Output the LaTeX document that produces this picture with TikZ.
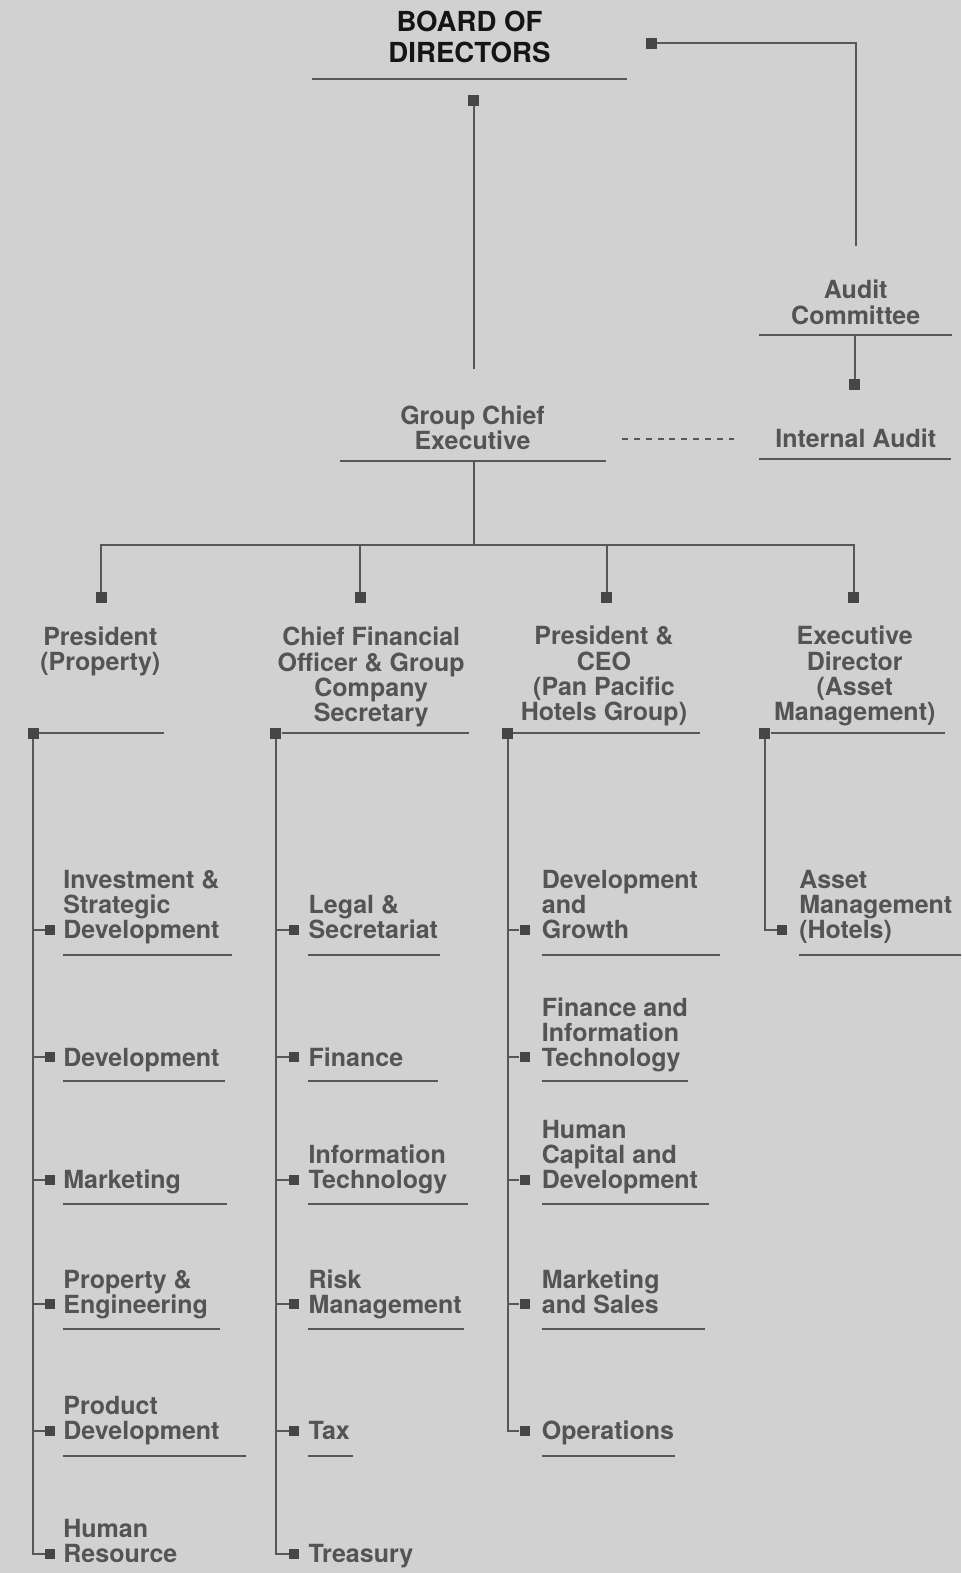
\documentclass[tikz,border=0pt]{standalone}
\usepackage{fontspec}
\setmainfont{TeX Gyre Heros}
\definecolor{bg}{HTML}{D0D1D0}
\definecolor{txt}{HTML}{545454}
\definecolor{brd}{HTML}{151515}
\definecolor{ln}{HTML}{575757}
\definecolor{sqc}{HTML}{464646}
\tikzset{
  title/.style={font=\fontsize{25}{25.1}\selectfont\bfseries, text=txt, inner sep=0pt, align=center, anchor=base},
  itemtext/.style={font=\fontsize{25}{25.1}\selectfont\bfseries, text=txt, inner sep=0pt, align=left, anchor=base west},
  bigsq/.style={rectangle, fill=sqc, minimum size=11pt, inner sep=0pt},
  smallsq/.style={rectangle, fill=sqc, minimum size=10pt, inner sep=0pt},
  conn/.style={draw=ln, line width=2pt},
  uline/.style={draw=ln, line width=2pt},
  dashconn/.style={draw=ln, line width=2pt, dash pattern=on 6pt off 5.85pt},
}
\begin{document}
\begin{tikzpicture}[x=1.0031pt,y=-1.0031pt]
\fill[bg] (0,0) rectangle (958,1568);
\useasboundingbox (0,0) rectangle (958,1568);

% ---- top level
\node[title, font=\fontsize{27.6}{31}\selectfont\bfseries, text=brd] (board) at (468,62) {BOARD OF\\DIRECTORS};
\draw[uline] (311,79) -- (625,79);
\node[bigsq] (b1) at (472,100) {};
\coordinate (gtop) at (472,368);
\draw[conn] (b1) -- (gtop);
\node[bigsq] (a1) at (649,43) {};
\coordinate (actop) at (853,245);
\draw[conn] (a1) -| (actop);

% ---- audit
\node[title] (audit) at (853,323) {Audit\\Committee};
\draw[uline] (757,334) -- (949,334);
\coordinate (acb) at (852,334);
\node[bigsq] (a2) at (852,383) {};
\draw[conn] (acb) -- (a2);
\node[title] (ia) at (853,446) {Internal Audit};
\draw[uline] (757,458) -- (948,458);

% ---- group chief executive
\node[title] (gce) at (471,448) {Group Chief\\Executive};
\draw[uline] (339,460) -- (604,460);
\coordinate (dl) at (620,438);
\coordinate (dr) at (732,438);
\draw[dashconn] (dl) -- (dr);
\coordinate (gbot) at (472,460);
\coordinate (bus) at (472,543);
\draw[conn] (gbot) -- (bus);
\node[bigsq] (s1) at (101,596) {};
\node[bigsq] (s2) at (359,596) {};
\node[bigsq] (s3) at (605,596) {};
\node[bigsq] (s4) at (851,596) {};
\draw[conn] (s1) |- (bus) -| (s4);
\draw[conn] (s2) -- (s2 |- bus);
\draw[conn] (s3) -- (s3 |- bus);

% ---- second level titles
\node[title] (pp) at (100,668) {President\\(Property)};
\node[title] (cfo) at (370,719) {Chief Financial\\Officer \& Group\\Company\\Secretary};
\node[title] (ceo) at (602,718) {President \&\\CEO\\(Pan Pacific\\Hotels Group)};
\node[title] (ed) at (852,718) {Executive\\Director\\(Asset\\Management)};

\node[bigsq] (k1) at (33,731) {};
\node[bigsq] (k2) at (275,731) {};
\node[bigsq] (k3) at (506,731) {};
\node[bigsq] (k4) at (762.5,731) {};
\draw[uline] (k1) -- (163,731);
\draw[uline] (k2) -- (468,731);
\draw[uline] (k3) -- (698,731);
\draw[uline] (k4) -- (942,731);

% ---- column 1
\node[smallsq] (p1) at (50,927) {};
\node[smallsq] (p2) at (50,1054) {};
\node[smallsq] (p3) at (50,1176) {};
\node[smallsq] (p4) at (50,1300) {};
\node[smallsq] (p5) at (50,1426) {};
\node[smallsq] (p6) at (50,1549) {};
\draw[conn] (k1) |- (p6);
\foreach \n in {p1,p2,p3,p4,p5} \draw[conn] (k1 |- \n) -- (\n);
\node[itemtext] (t11) at (63,936) {Investment \&\\Strategic\\Development};
\node[itemtext] (t12) at (63,1063) {Development};
\node[itemtext] (t13) at (63,1185) {Marketing};
\node[itemtext] (t14) at (63,1309) {Property \&\\Engineering};
\node[itemtext] (t15) at (63,1435) {Product\\Development};
\node[itemtext] (t16) at (63,1558) {Human\\Resource};
\draw[uline] (63,952) -- (231,952);
\draw[uline] (63,1078) -- (224,1078);
\draw[uline] (63,1200) -- (226,1200);
\draw[uline] (63,1325) -- (219,1325);
\draw[uline] (63,1451) -- (245,1451);

% ---- column 2
\node[smallsq] (q1) at (293.4,927) {};
\node[smallsq] (q2) at (293.4,1054) {};
\node[smallsq] (q3) at (293.4,1176) {};
\node[smallsq] (q4) at (293.4,1300) {};
\node[smallsq] (q5) at (293.4,1426) {};
\node[smallsq] (q6) at (293.4,1549) {};
\draw[conn] (k2) |- (q6);
\foreach \n in {q1,q2,q3,q4,q5} \draw[conn] (k2 |- \n) -- (\n);
\node[itemtext] (t21) at (307.5,936) {Legal \&\\Secretariat};
\node[itemtext] (t22) at (307.5,1063) {Finance};
\node[itemtext] (t23) at (307.5,1185) {Information\\Technology};
\node[itemtext] (t24) at (307.5,1309) {Risk\\Management};
\node[itemtext] (t25) at (307.5,1435) {Tax};
\node[itemtext] (t26) at (307.5,1558) {Treasury};
\draw[uline] (307.5,952) -- (439,952);
\draw[uline] (307.5,1078) -- (437,1078);
\draw[uline] (307.5,1200) -- (467,1200);
\draw[uline] (307.5,1325) -- (463,1325);
\draw[uline] (307.5,1451) -- (352,1451);

% ---- column 3
\node[smallsq] (r1) at (523,927) {};
\node[smallsq] (r2) at (523,1054) {};
\node[smallsq] (r3) at (523,1176) {};
\node[smallsq] (r4) at (523,1300) {};
\node[smallsq] (r5) at (523,1426) {};
\draw[conn] (k3) |- (r5);
\foreach \n in {r1,r2,r3,r4} \draw[conn] (k3 |- \n) -- (\n);
\node[itemtext] (t31) at (540,936) {Development\\and\\Growth};
\node[itemtext] (t32) at (540,1063) {Finance and\\Information\\Technology};
\node[itemtext] (t33) at (540,1185) {Human\\Capital and\\Development};
\node[itemtext] (t34) at (540,1309) {Marketing\\and Sales};
\node[itemtext] (t35) at (540,1435) {Operations};
\draw[uline] (540,952) -- (718,952);
\draw[uline] (540,1078) -- (686,1078);
\draw[uline] (540,1200) -- (707,1200);
\draw[uline] (540,1325) -- (703,1325);
\draw[uline] (540,1451) -- (673,1451);

% ---- column 4
\node[smallsq] (u1) at (779.6,927) {};
\draw[conn] (k4) |- (u1);
\node[itemtext] (t41) at (796.5,936) {Asset\\Management\\(Hotels)};
\draw[uline] (796.5,952) -- (958,952);
\end{tikzpicture}
\end{document}
